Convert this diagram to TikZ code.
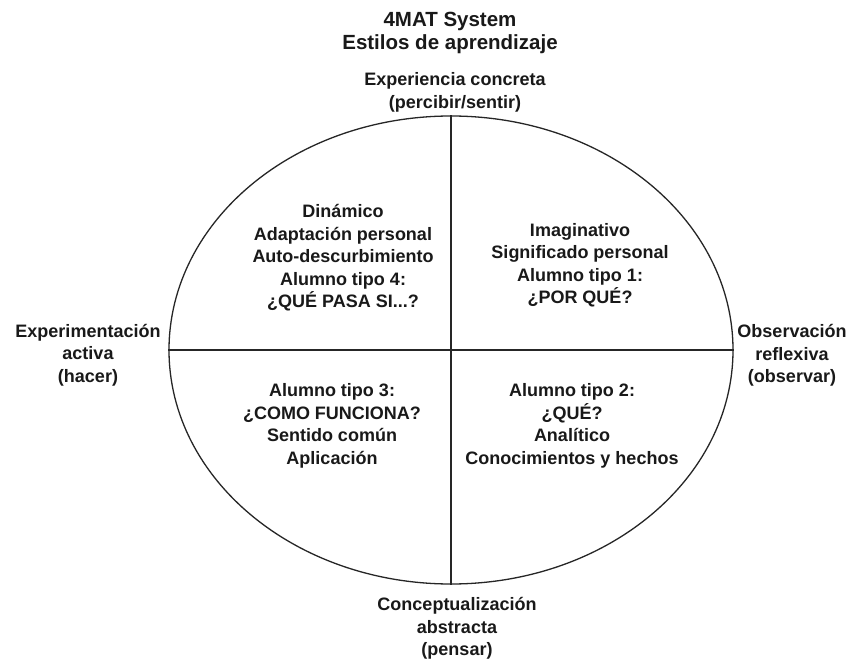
\documentclass[tikz,border=0pt]{standalone}
\usepackage{fontspec}
\setmainfont{Liberation Sans}
\usetikzlibrary{shapes.geometric}
\tikzset{
  lbl/.style={align=center, inner sep=0pt, font=\bfseries\fontsize{18}{22.5}\selectfont, text=black!90},
  ttl/.style={align=center, inner sep=0pt, font=\bfseries\fontsize{20.5}{23}\selectfont, text=black!90},
  rim/.style={draw=black!85, line width=1.3pt},
  axis/.style={draw=black!85, line width=1.3pt}
}
\begin{document}
\begin{tikzpicture}[x=1pt,y=-1pt]
\useasboundingbox[fill=white] (0,0) rectangle (851,660);
\node[ellipse, rim, minimum width=564pt, minimum height=468pt, inner sep=0pt] (E) at (451,350) {};
\draw[axis] (E.north) -- (E.south);
\draw[axis] (E.west) -- (E.east);
\node[ttl] (title) at (450,32.5) {4MAT System\\Estilos de aprendizaje};
\node[lbl] (top) at (455,92.5) {Experiencia concreta\\(percibir/sentir)};
\node[lbl] (left) at (88,355) {Experimentación\\activa\\(hacer)};
\node[lbl] (right) at (792,355.5) {Observación\\reflexiva\\(observar)};
\node[lbl] (bottom) at (457,628.5) {Conceptualización\\abstracta\\(pensar)};
\node[lbl] (q4) at (343,258) {Dinámico\\Adaptación personal\\Auto-descurbimiento\\Alumno tipo 4:\\¿QUÉ PASA SI...?};
\node[lbl] (q1) at (580,265) {Imaginativo\\Significado personal\\Alumno tipo 1:\\¿POR QUÉ?};
\node[lbl] (q3) at (332,426) {Alumno tipo 3:\\¿COMO FUNCIONA?\\Sentido común\\Aplicación};
\node[lbl] (q2) at (572,426) {Alumno tipo 2:\\¿QUÉ?\\Analítico\\Conocimientos y hechos};
\end{tikzpicture}
\end{document}
